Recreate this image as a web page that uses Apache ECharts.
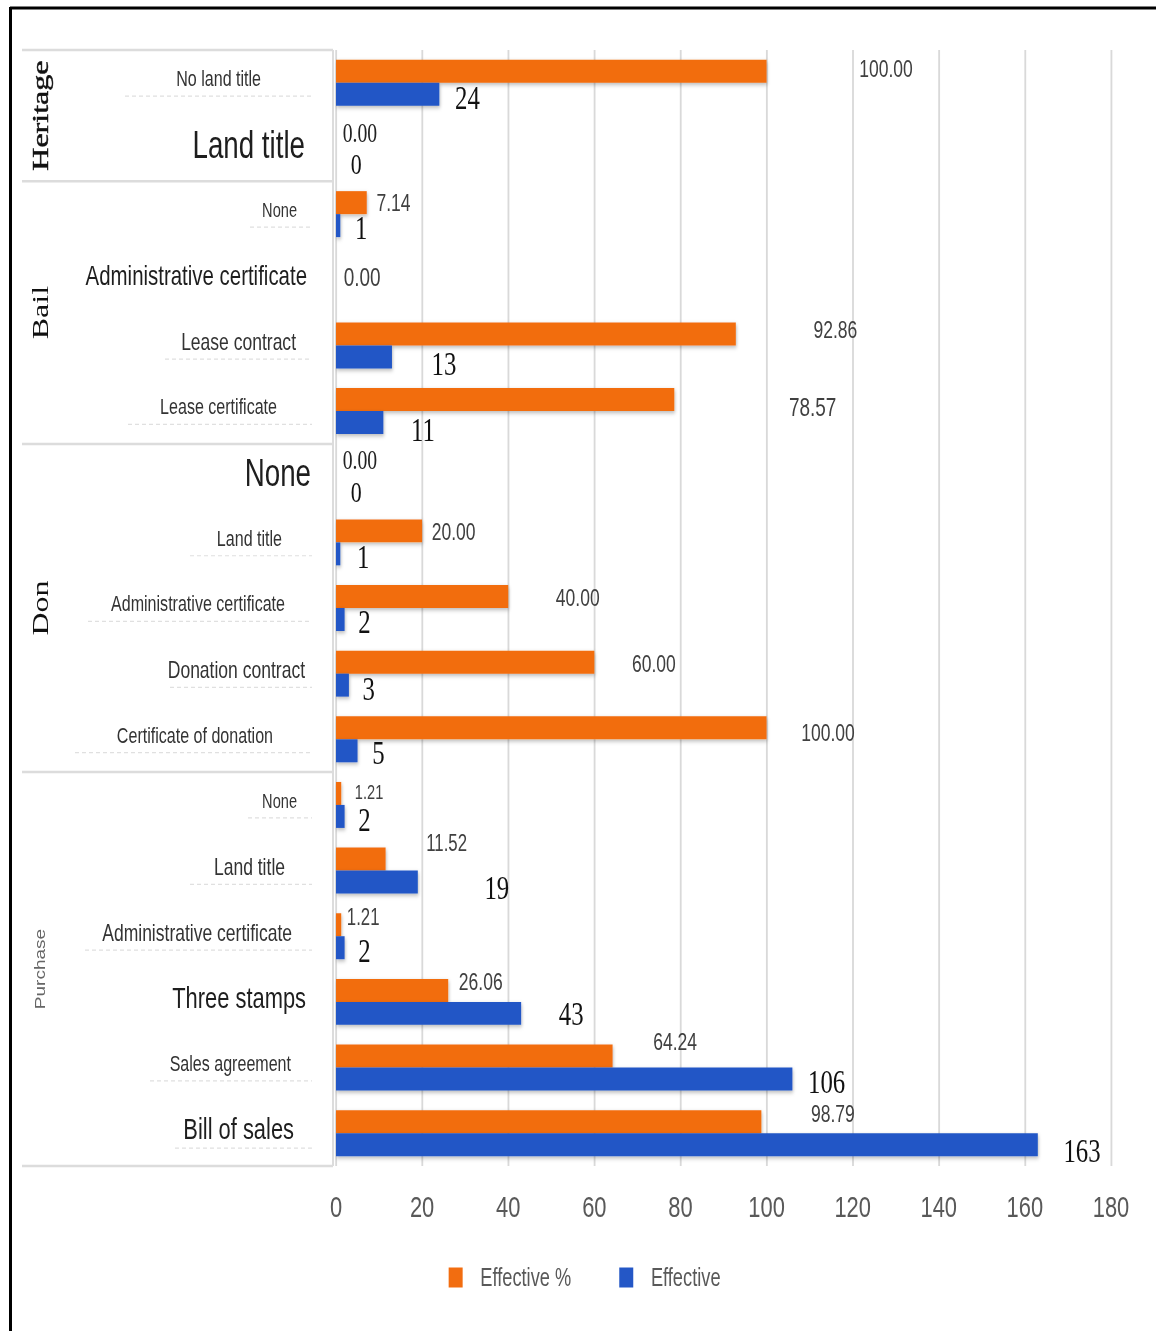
<!DOCTYPE html>
<html>
<head>
<meta charset="utf-8">
<script src="https://cdn.jsdelivr.net/npm/echarts@6/dist/echarts.min.js"></script>
<style>
  html, body { margin: 0; padding: 0; background: #fff; overflow: hidden; }
  #wrap { width: 1156px; height: 1331px; overflow: hidden; position: relative; background: #fff; }
  /* the chart is laid out wide and squeezed horizontally, giving the condensed lettering */
  #chart { width: 1584px; height: 1331px; transform: scaleX(0.73); transform-origin: 0 0; }
</style>
</head>
<body>
<div id="wrap"><div id="chart"></div></div>
<script>
// ---- data ---------------------------------------------------------------
const groupNames = ['Heritage', 'Bail', 'Don', 'Purchase'];
const groupSizes = [2, 4, 5, 6];

const categories = [
  'No land title', 'Land title',
  'None', 'Administrative certificate', 'Lease contract', 'Lease certificate',
  'None', 'Land title', 'Administrative certificate', 'Donation contract', 'Certificate of donation',
  'None', 'Land title', 'Administrative certificate', 'Three stamps', 'Sales agreement', 'Bill of sales'
];

const effectivePct = [100.00, 0.00, 7.14, 0.00, 92.86, 78.57, 0.00, 20.00, 40.00, 60.00, 100.00,
                      1.21, 11.52, 1.21, 26.06, 64.24, 98.79];
const effective    = [24, 0, 1, 0, 13, 11, 0, 1, 2, 3, 5, 2, 19, 2, 43, 106, 163];

const xMin = 0, xMax = 180, xStep = 20;

// ---- layout & style -----------------------------------------------------
const SX = 0.73;                 // horizontal squeeze applied by CSS
const W = 1156 / SX;
const px = v => v / SX;          // screen px (horizontal) -> layout px

const SANS = '"Liberation Sans", Arial, sans-serif';
const SERIF = '"Liberation Serif", "Times New Roman", serif';
const ORANGE = '#F26D10';
const BLUE = '#2457C6';

const GRID_TOP = 50, GRID_BOTTOM = 165;

// category label look, row by row
const catFont = [22, 38, 20, 28, 24, 22, 38, 22, 22, 24, 22, 20, 24, 24, 30, 22, 30];
const catPadRight = [50, 6, 14, 4, 15, 34, 0, 29, 26, 6, 38, 14, 26, 19, 5, 20, 17];
// where the faint dotted rule under a label starts (screen px); null = no rule
const ruleFrom = [125, null, 250, null, 165, 128, null, 190, 88, 170, 75, 248, 190, 85, null, 150, 175];

// value-label nudges [dx, dy] (screen px)
const pctShift = [[89,-3],[3,-4],[6,0],[4,9],[74,-4],[111,7],[3,-5],[6,1],[44,1],[34,1],[31,5],
                  [10,-1],[37,-16],[2,-8],[7,-9],[37,-15],[46,-8]];
const pctFont  = [24, 27, 24, 26, 24, 26, 27, 24, 24, 24, 24, 20, 23, 23, 24, 24, 24];
const pctSerif = [false, true, false, false, false, false, true, false, false, false, false,
                  false, false, false, false, false, false];
const cntShift = [[12,3],[11,4],[11,1],null,[36,6],[24,6],[11,4],[13,2],[10,2],[10,3],[11,1],
                  [10,3],[63,5],[10,2],[34,0],[12,2],[22,5]];
const cntFont  = [34, 30, 34, 34, 34, 34, 30, 34, 34, 34, 34, 34, 34, 34, 34, 34, 34];

const rich = {};
categories.forEach((c, i) => {
  rich['c' + i] = {
    fontSize: catFont[i],
    fontFamily: SANS,
    color: catFont[i] >= 28 ? '#1e1e1e' : '#333333',
    padding: [0, px(catPadRight[i]), 8, 0]
  };
});

const pctData = effectivePct.map((v, i) => ({
  value: v,
  label: {
    offset: [px(pctShift[i][0]), pctShift[i][1]],
    fontSize: pctFont[i],
    fontFamily: pctSerif[i] ? SERIF : SANS,
    color: pctSerif[i] ? '#222' : '#404040'
  }
}));

const cntData = effective.map((v, i) => {
  const s = cntShift[i];
  return s ? { value: v, label: { offset: [px(s[0]), s[1]], fontSize: cntFont[i] } }
           : { value: v, label: { show: false } };
});

const barShadow = { shadowBlur: 4, shadowColor: 'rgba(0,0,0,0.28)', shadowOffsetY: 2, shadowOffsetX: 1 };

const chart = echarts.init(document.getElementById('chart'), null, { renderer: 'svg', width: W, height: 1331 });

chart.setOption({
  animation: false,
  backgroundColor: '#ffffff',
  grid: { left: px(336), right: W - px(1111), top: GRID_TOP, bottom: GRID_BOTTOM, containLabel: false },
  legend: {
    data: ['Effective %', 'Effective'],
    left: px(445),
    top: 1260,
    icon: 'rect',
    itemWidth: px(14),
    itemHeight: 20,
    itemGap: px(48),
    textStyle: { fontFamily: SANS, fontSize: 25, color: '#595959', padding: [0, 0, 0, px(14)] }
  },
  xAxis: {
    type: 'value',
    min: xMin, max: xMax, interval: xStep,
    axisLine: { show: false },
    axisTick: { show: false },
    splitLine: { show: true, lineStyle: { color: '#d9d9d9', width: 2.5 } },
    axisLabel: { fontFamily: SANS, fontSize: 30, color: '#595959', margin: 26 }
  },
  yAxis: {
    type: 'category',
    inverse: true,
    data: categories,
    axisLine: { show: false },
    axisTick: { show: false },
    splitLine: { show: false },
    axisLabel: {
      margin: px(25),
      formatter: (value, index) => '{c' + index + '|' + value + '}',
      rich: rich
    }
  },
  series: [
    {
      name: 'Effective %',
      type: 'bar',
      data: pctData,
      barGap: '0%',
      barCategoryGap: '30%',
      itemStyle: Object.assign({ color: ORANGE }, barShadow),
      label: {
        show: true, position: 'right', distance: 5,
        formatter: p => Number(p.value).toFixed(2)
      }
    },
    {
      name: 'Effective',
      type: 'bar',
      data: cntData,
      barGap: '0%',
      barCategoryGap: '30%',
      itemStyle: Object.assign({ color: BLUE }, barShadow),
      label: {
        show: true, position: 'right', distance: 5,
        fontFamily: SERIF, fontSize: 34, color: '#111111',
        formatter: p => String(p.value)
      }
    }
  ]
});

// ---- group boxes, group titles, label rules and frame -------------------
const n = categories.length;
const band = (1331 - GRID_TOP - GRID_BOTTOM) / n;
const rowY = i => chart.convertToPixel({ yAxisIndex: 0 }, i);

const graphics = [];
const boxLine = { stroke: '#dcdcdc', lineWidth: 2.5 };

let start = 0;
const edges = [rowY(0) - band / 2];
groupNames.forEach((g, k) => {
  const end = start + groupSizes[k] - 1;
  const y0 = rowY(start) - band / 2;
  const y1 = rowY(end) + band / 2;
  edges.push(y1);
  const serifTitle = g !== 'Purchase';
  graphics.push({
    type: 'text',
    x: px(40), y: (y0 + y1) / 2,
    rotation: Math.PI / 2,
    style: {
      text: g,
      fontFamily: serifTitle ? SERIF : SANS,
      fontSize: g === 'Heritage' ? 32 : (serifTitle ? 32 : 19),
      fill: serifTitle ? '#111111' : '#666666',
      stroke: g === 'Heritage' ? '#111111' : null,
      lineWidth: g === 'Heritage' ? 0.6 : 0,
      align: 'center', verticalAlign: 'middle',
      textAlign: 'center', textVerticalAlign: 'middle'
    },
    z: 10
  });
  start = end + 1;
});

edges.forEach(y => {
  graphics.push({ type: 'line', shape: { x1: px(22), y1: y, x2: px(333), y2: y }, style: boxLine, z: 5 });
});
graphics.push({
  type: 'line',
  shape: { x1: px(333), y1: edges[0], x2: px(333), y2: edges[edges.length - 1] },
  style: { stroke: '#dcdcdc', lineWidth: px(2) }, z: 5
});

// faint dotted rules beneath the row labels
ruleFrom.forEach((x0, i) => {
  if (x0 == null) return;
  const y = rowY(i) + 9 + catFont[i] * 0.2;
  graphics.push({
    type: 'line',
    shape: { x1: px(x0), y1: y, x2: px(312), y2: y },
    style: { stroke: '#e0e0e0', lineWidth: 1.2, lineDash: [px(4), px(3)] },
    z: 4
  });
});

// outer frame (top and left edges fall inside the view)
graphics.push({ type: 'line', shape: { x1: px(10), y1: 8, x2: W + 10, y2: 8 }, style: { stroke: '#000', lineWidth: 3 }, z: 20 });
graphics.push({ type: 'line', shape: { x1: px(10.5), y1: 7, x2: px(10.5), y2: 1340 }, style: { stroke: '#000', lineWidth: px(3) }, z: 20 });

chart.setOption({ graphic: graphics });
</script>
</body>
</html>
